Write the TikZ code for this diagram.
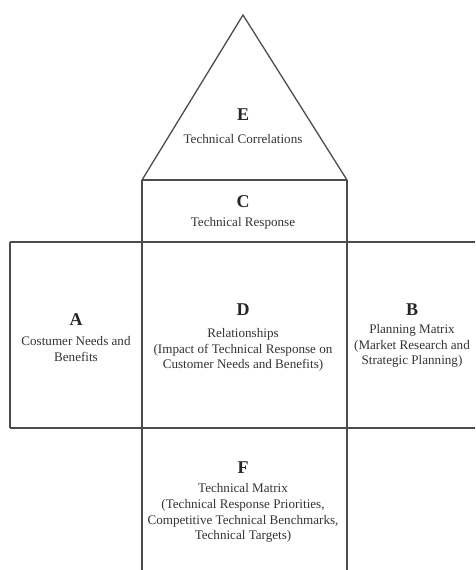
\documentclass[tikz,border=0pt]{standalone}
\usepackage{fontspec}
\setmainfont{Liberation Serif}
\begin{document}
\begin{tikzpicture}[x=1pt,y=-1pt,
  frame/.style={color=black!70,line width=1.3pt},
  letter/.style={font=\fontsize{18}{18}\selectfont\bfseries,text=black!85,inner sep=0pt},
  desc/.style={align=center,font=\fontsize{13.1}{15.8}\selectfont,text=black!80,inner sep=0pt}]
\useasboundingbox (0,0) rectangle (475,570);

  %% tetto
  \draw[frame] (142,180)--(243,15)--(347,180);
  %% blocco C
  \draw[frame] (142,180)--(347,180);
  \draw[frame] (10,242)--(475,242);
  \draw[frame] (10,428)--(475,428);
  \draw[frame] (10,242)--(10,428);
  \foreach \x in {142,347} \draw[frame] (\x,180)--(\x,570);

  %% testi
  \node[letter] (letE) at (243,115){E};
  \node[desc] (descE) at (243,139){Technical Correlations};

  \node[letter] (letC) at (243,202){C};
  \node[desc] (descC) at (243,223){Technical Response};

  \node[letter] (letA) at (76,320){A};
  \node[desc] (descA) at (76,349){Costumer Needs and\\Benefits};

  \node[letter] (letD) at (243,310){D};
  \node[desc] (descD) at (243,350){Relationships\\(Impact of Technical Response on\\Customer Needs and Benefits)};

  \node[letter] (letB) at (412,310){B};
  \node[desc] (descB) at (412,346){Planning Matrix\\(Market Research and\\Strategic Planning)};

  \node[letter] (letF) at (243,468){F};
  \node[desc] (descF) at (243,513){Technical Matrix\\(Technical Response Priorities,\\Competitive Technical Benchmarks,\\Technical Targets)};
\end{tikzpicture}
\end{document}
